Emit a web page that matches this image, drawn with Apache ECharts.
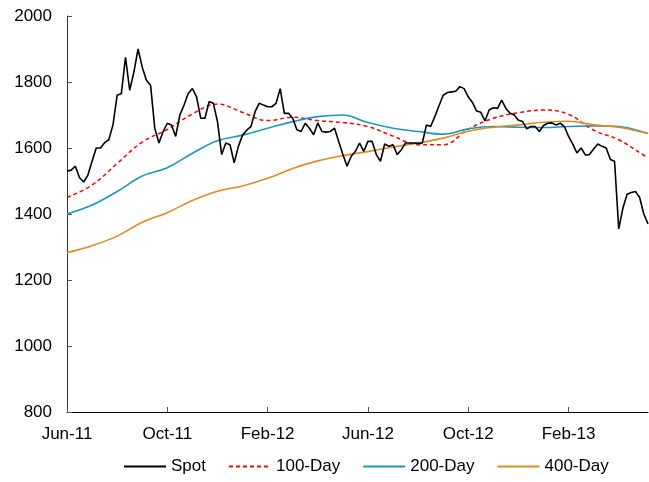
<!DOCTYPE html>
<html>
<head>
<meta charset="utf-8">
<script src="https://cdn.jsdelivr.net/npm/echarts@6/dist/echarts.min.js"></script>
<style>
  html, body { margin: 0; padding: 0; background: #fff; }
  #chart { width: 649px; height: 482px; }
</style>
</head>
<body>
<div id="chart"></div>
<script>
  // x-axis labels, one every 24 points (4 months)
  var tickLabels = ['Jun-11', 'Oct-11', 'Feb-12', 'Jun-12', 'Oct-12', 'Feb-13'];

  // spot price, ~5 days apart, Jun-11 .. May-13
  var spot = [
    1530, 1533, 1545, 1510, 1497, 1518, 1560, 1600, 1600, 1616,
    1625, 1670, 1760, 1765, 1875, 1775, 1830, 1900, 1845, 1805,
    1790, 1660, 1615, 1650, 1675, 1670, 1635, 1700, 1730, 1765,
    1780, 1755, 1690, 1690, 1740, 1736, 1680, 1580, 1615, 1610,
    1555, 1605, 1639, 1654, 1665, 1710, 1736, 1730, 1725, 1725,
    1735, 1780, 1705, 1705, 1690, 1655, 1650, 1675, 1660, 1640,
    1676, 1650, 1648, 1650, 1660, 1620, 1580, 1545, 1575, 1590,
    1615, 1590, 1620, 1620, 1580, 1560, 1612, 1605, 1610, 1580,
    1595, 1615, 1615, 1615, 1614, 1615, 1670, 1665, 1695, 1728,
    1760, 1768, 1770, 1772, 1786, 1780, 1755, 1738, 1712, 1708,
    1682, 1715, 1722, 1720, 1745, 1720, 1705, 1700, 1684, 1680,
    1658, 1665, 1665, 1650, 1668, 1675, 1676, 1670, 1675, 1665,
    1635, 1612, 1585, 1600, 1579, 1580, 1597, 1612, 1605, 1600,
    1565, 1560, 1355, 1418, 1460, 1465, 1468, 1450, 1400, 1370
  ];

  // moving averages, read about once a month (every 6th point, plus the last one)
  var ma100 = [1450, 1488, 1553, 1618, 1656, 1703, 1733, 1708, 1683, 1693, 1683, 1677, 1665,
               1636, 1610, 1610, 1657, 1690, 1707, 1715, 1702, 1654, 1625, 1578, 1571];
  var ma200 = [1400, 1427, 1468, 1515, 1540, 1584, 1622, 1639, 1660, 1680, 1695, 1700, 1677,
               1660, 1650, 1642, 1658, 1665, 1663, 1662, 1665, 1667, 1665, 1648, 1644];
  var ma400 = [1283, 1304, 1333, 1375, 1404, 1441, 1469, 1485, 1508, 1538, 1561, 1577, 1589,
               1603, 1615, 1630, 1651, 1663, 1670, 1678, 1681, 1670, 1663, 1647, 1644];

  var categories = [];
  for (var i = 0; i < spot.length; i++) {
    var d = new Date(2011, 5, 1 + Math.round(i * 122 / 24));
    categories.push(d.toISOString().slice(0, 10));
  }
  var maIdx = [];
  for (var k = 0; k < ma100.length; k++) {
    maIdx.push(Math.min(k * 6, spot.length - 1));
  }
  function pairs(arr) {
    return arr.map(function (v, k) { return [maIdx[k], v]; });
  }

  var chart = echarts.init(document.getElementById('chart'));
  chart.setOption({
    animation: false,
    textStyle: { fontFamily: 'Liberation Sans, Arial, sans-serif' },
    grid: { left: 67, right: 1, top: 16, bottom: 70 },
    legend: {
      top: 458,
      left: 123,
      padding: 0,
      itemWidth: 42,
      itemHeight: 14,
      itemGap: 22,
      itemStyle: { color: 'transparent', borderWidth: 0, opacity: 0 },
      textStyle: { fontSize: 17, color: '#000' },
      data: ['Spot', '100-Day', '200-Day', '400-Day']
    },
    xAxis: {
      type: 'category',
      boundaryGap: false,
      data: categories,
      axisLine: { lineStyle: { color: '#000', width: 1 } },
      axisTick: {
        inside: true,
        length: 5,
        lineStyle: { color: '#555' },
        interval: function (i) { return i % 24 === 0; }
      },
      axisLabel: {
        fontSize: 17,
        color: '#000',
        margin: 14,
        interval: function (i) { return i % 24 === 0; },
        formatter: function (v, i) { return tickLabels[i / 24] || ''; }
      },
      splitLine: { show: false }
    },
    yAxis: {
      type: 'value',
      min: 800,
      max: 2000,
      interval: 200,
      axisLine: { show: true, lineStyle: { color: '#333', width: 1 } },
      axisTick: { show: true, inside: true, length: 5, lineStyle: { color: '#555' } },
      axisLabel: {
        fontSize: 17,
        color: '#000',
        margin: 15,
        formatter: function (v) { return String(v); }
      },
      splitLine: { show: false }
    },
    series: [
      {
        name: 'Spot',
        type: 'line',
        symbol: 'none',
        data: spot,
        lineStyle: { color: '#000', width: 1.6 },
        itemStyle: { color: '#000' },
        z: 5
      },
      {
        name: '100-Day',
        type: 'line',
        symbol: 'none',
        smooth: 0.4,
        data: pairs(ma100),
        lineStyle: { color: '#ff0000', width: 1.5, type: [4, 3] },
        itemStyle: { color: '#ff0000' }
      },
      {
        name: '200-Day',
        type: 'line',
        symbol: 'none',
        smooth: 0.4,
        data: pairs(ma200),
        lineStyle: { color: '#1b97c0', width: 1.6 },
        itemStyle: { color: '#1b97c0' }
      },
      {
        name: '400-Day',
        type: 'line',
        symbol: 'none',
        smooth: 0.4,
        data: pairs(ma400),
        lineStyle: { color: '#e08b22', width: 1.6 },
        itemStyle: { color: '#e08b22' }
      }
    ]
  });
</script>
</body>
</html>
